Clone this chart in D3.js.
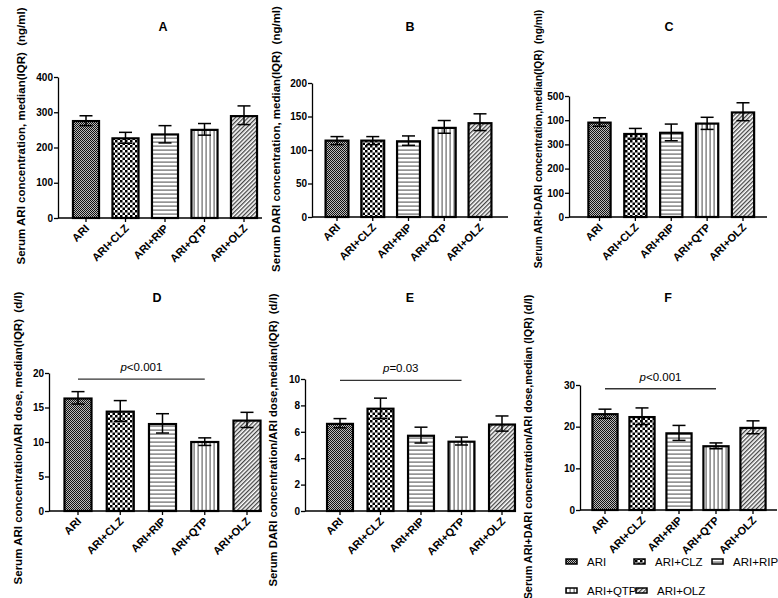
<!DOCTYPE html>
<html><head><meta charset="utf-8">
<script src="https://cdn.jsdelivr.net/npm/d3@7"></script>
<style>
body{margin:0;background:#fff;}
text{font-family:"Liberation Sans",Arial,sans-serif;}
</style></head>
<body><svg id="chart" width="778" height="598"></svg>
<script>
const categories = ["ARI","ARI+CLZ","ARI+RIP","ARI+QTP","ARI+OLZ"];
const patternIds = ["pARI","pCLZ","pRIP","pQTP","pOLZ"];

const titles = ["A","B","C","D","E","F"];
const yLabels = [
  "Serum ARI concentration, median(IQR)  (ng/ml)",
  "Serum DARI concentration, median(IQR)  (ng/ml)",
  "Serum ARI+DARI concentration,median(IQR)  (ng/ml)",
  "Serum ARI concentration/ARI dose, median(IQR)  (d/l)",
  "Serum DARI concentration/ARI dose,median(IQR)  (d/l)",
  "Serum ARI+DARI concentration/ARI dose,median (IQR) (d/l)"
];

const medianA = [275,226,237,250,289];
const lowA    = [262,212,213,235,265];
const highA   = [290,243,262,268,318];
const ticksA  = [0,100,200,300,400];
const tickLabelsA = ["0","100","200","300","400"];

const medianB = [114,114,113,133,140];
const lowB    = [108,108,107,125,129];
const highB   = [120,120,121,144,154];
const ticksB  = [0,50,100,150,200];
const tickLabelsB = ["0","50","100","150","200"];

const medianC = [390,343,348,386,432];
const lowC    = [375,322,315,362,398];
const highC   = [410,366,384,412,472];
const ticksC  = [0,100,200,300,400,500];
const tickLabelsC = ["0","100","200","300","100","500"];

const medianD = [16.3,14.4,12.6,10.0,13.1];
const lowD    = [15.5,13.0,11.3,9.5,12.1];
const highD   = [17.3,16.0,14.1,10.6,14.3];
const ticksD  = [0,5,10,15,20];
const tickLabelsD = ["0","5","10","15","20"];

const medianE = [6.6,7.75,5.7,5.25,6.55];
const lowE    = [6.3,7.0,5.15,5.0,6.05];
const highE   = [7.0,8.55,6.35,5.6,7.2];
const ticksE  = [0,2,4,6,8,10];
const tickLabelsE = ["0","2","4","6","8","10"];

const medianF = [23.0,22.3,18.4,15.3,19.7];
const lowF    = [22.0,20.5,16.7,14.7,18.3];
const highF   = [24.2,24.5,20.3,16.1,21.4];
const ticksF  = [0,10,20,30];
const tickLabelsF = ["0","10","20","30"];

// significance brackets: [from category, to category, y value, label prefix, label rest]
const sigD = ["ARI","ARI+QTP",19.1,"p","<0.001"];
const sigE = ["ARI","ARI+QTP",9.9,"p","=0.03"];
const sigF = ["ARI","ARI+QTP",29.1,"p","<0.001"];

const svg = d3.select("#chart");
const defs = svg.append("defs");

// patterns
(function(){
  let p = defs.append("pattern").attr("id","pARI").attr("patternUnits","userSpaceOnUse").attr("width",2).attr("height",2);
  p.append("rect").attr("width",2).attr("height",2).attr("fill","#bbb");
  p.append("rect").attr("x",0).attr("y",0).attr("width",1).attr("height",1).attr("fill","#111");
  p.append("rect").attr("x",1).attr("y",1).attr("width",1).attr("height",1).attr("fill","#111");

  p = defs.append("pattern").attr("id","pCLZ").attr("patternUnits","userSpaceOnUse").attr("width",5).attr("height",5);
  p.append("rect").attr("width",5).attr("height",5).attr("fill","#fff");
  p.append("rect").attr("x",0).attr("y",0).attr("width",2.5).attr("height",2.5).attr("fill","#000");
  p.append("rect").attr("x",2.5).attr("y",2.5).attr("width",2.5).attr("height",2.5).attr("fill","#000");

  p = defs.append("pattern").attr("id","pRIP").attr("patternUnits","userSpaceOnUse").attr("width",4).attr("height",4);
  p.append("rect").attr("width",4).attr("height",4).attr("fill","#fff");
  p.append("rect").attr("x",0).attr("y",1.5).attr("width",4).attr("height",1.2).attr("fill","#666");

  p = defs.append("pattern").attr("id","pQTP").attr("patternUnits","userSpaceOnUse").attr("width",4).attr("height",4);
  p.append("rect").attr("width",4).attr("height",4).attr("fill","#fff");
  p.append("rect").attr("x",1.5).attr("y",0).attr("width",1.2).attr("height",4).attr("fill","#666");

  p = defs.append("pattern").attr("id","pOLZ").attr("patternUnits","userSpaceOnUse").attr("width",3).attr("height",3)
    .attr("patternTransform","rotate(45)");
  p.append("rect").attr("width",3).attr("height",3).attr("fill","#fff");
  p.append("rect").attr("x",0).attr("y",0).attr("width",1.3).attr("height",3).attr("fill","#444");
})();

const panels = [
  {med:medianA,low:lowA,high:highA,ticks:ticksA,tl:tickLabelsA,max:400,ax:58,right:262,y0:218,yTop:77,c0:86,c4:244,title:[163,31],yl:[25,136],ylf:11.5,pad:0.34},
  {med:medianB,low:lowB,high:highB,ticks:ticksB,tl:tickLabelsB,max:200,ax:312,right:508,y0:217,yTop:83,c0:337,c4:480,title:[410,31],yl:[280,139],ylf:11.5,pad:0.36},
  {med:medianC,low:lowC,high:highC,ticks:ticksC,tl:tickLabelsC,max:500,ax:569,right:767,y0:217,yTop:96,c0:599.5,c4:743,title:[669,31],yl:[542,139],ylf:10.3,pad:0.38},
  {med:medianD,low:lowD,high:highD,ticks:ticksD,tl:tickLabelsD,max:20,ax:49,right:262,y0:511,yTop:373,c0:78,c4:247,title:[157,302],yl:[22,438],ylf:11.5,pad:0.36,sig:sigD},
  {med:medianE,low:lowE,high:highE,ticks:ticksE,tl:tickLabelsE,max:10,ax:305,right:515,y0:511,yTop:379,c0:340,c4:502,title:[410,302],yl:[277,440],ylf:11.3,pad:0.36,sig:sigE},
  {med:medianF,low:lowF,high:highF,ticks:ticksF,tl:tickLabelsF,max:30,ax:580,right:777,y0:510,yTop:385,c0:605,c4:753,title:[668,302],yl:[532,447],ylf:10.8,pad:0.32,sig:sigF}
];

panels.forEach((P,i)=>{
  const g = svg.append("g");
  const step = (P.c4-P.c0)/4;
  const x = d3.scaleBand().domain(categories).range([P.c0-step/2, P.c4+step/2])
    .paddingInner(P.pad).paddingOuter(P.pad/2);
  const y = d3.scaleLinear().domain([0,P.max]).range([P.y0,P.yTop]);

  // title
  g.append("text").attr("x",P.title[0]).attr("y",P.title[1]).attr("text-anchor","middle")
    .attr("font-size",12.5).attr("font-weight","bold").text(titles[i]);
  // y label
  g.append("text").attr("transform",`translate(${P.yl[0]},${P.yl[1]}) rotate(-90)`)
    .attr("text-anchor","middle").attr("font-size",P.ylf).attr("font-weight","bold")
    .style("white-space","pre").text(yLabels[i]);

  // bars
  categories.forEach((c,k)=>{
    g.append("rect").attr("x",x(c)).attr("y",y(P.med[k])).attr("width",x.bandwidth())
      .attr("height",y(0)-y(P.med[k])).attr("fill",`url(#${patternIds[k]})`)
      .attr("stroke","#000").attr("stroke-width",2.2);
    const cx = x(c)+x.bandwidth()/2, hw = 6.5;
    g.append("line").attr("x1",cx).attr("x2",cx).attr("y1",y(P.low[k])).attr("y2",y(P.high[k]))
      .attr("stroke","#000").attr("stroke-width",1.5);
    [P.low[k],P.high[k]].forEach(v=>{
      g.append("line").attr("x1",cx-hw).attr("x2",cx+hw).attr("y1",y(v)).attr("y2",y(v))
        .attr("stroke","#000").attr("stroke-width",1.5);
    });
  });

  // y axis
  const yAxis = d3.axisLeft(y).tickValues(P.ticks).tickFormat((d,j)=>P.tl[j]).tickSize(4).tickSizeOuter(0);
  const ya = g.append("g").attr("transform",`translate(${P.ax},0)`).call(yAxis);
  ya.select(".domain").attr("stroke","#000").attr("stroke-width",1.3);
  ya.selectAll(".tick line").attr("stroke","#000").attr("stroke-width",1.3);
  ya.selectAll(".tick text").attr("font-size",10).attr("font-weight","bold")
    .attr("font-family","Liberation Sans, Arial, sans-serif").attr("fill","#000").attr("x",-5);

  // x axis
  const xAxis = d3.axisBottom(x).tickSize(4).tickSizeOuter(0);
  const xa = g.append("g").attr("transform",`translate(0,${P.y0})`).call(xAxis);
  xa.select(".domain").remove();
  xa.append("line").attr("x1",P.ax).attr("x2",P.right).attr("y1",0).attr("y2",0)
    .attr("stroke","#000").attr("stroke-width",1.3);
  xa.selectAll(".tick line").attr("stroke","#000").attr("stroke-width",1.3);
  xa.selectAll(".tick text").attr("font-size",11).attr("font-weight","bold")
    .attr("font-family","Liberation Sans, Arial, sans-serif").attr("fill","#000")
    .attr("text-anchor","end").attr("dy",0).attr("y",0)
    .attr("transform","translate(4,11) rotate(-45)");

  // significance
  if(P.sig){
    const [a,b,v,pp,rest] = P.sig;
    const xa1 = x(a)+x.bandwidth()/2, xb1 = x(b)+x.bandwidth()/2;
    g.append("line").attr("x1",xa1).attr("x2",xb1).attr("y1",y(v)).attr("y2",y(v))
      .attr("stroke","#333").attr("stroke-width",1.3);
    const t = g.append("text").attr("x",(xa1+xb1)/2).attr("y",y(v)-8).attr("text-anchor","middle")
      .attr("font-size",11.5);
    t.append("tspan").attr("font-style","italic").text(pp);
    t.append("tspan").text(rest);
  }
});

// legend
const legendPos = [[566,562],[634,562],[712,562],[566,591],[636,591]];
categories.forEach((c,k)=>{
  const [lx,ly] = legendPos[k];
  svg.append("rect").attr("x",lx).attr("y",ly-3).attr("width",11).attr("height",5)
    .attr("fill",`url(#${patternIds[k]})`).attr("stroke","#000").attr("stroke-width",1.5);
  svg.append("text").attr("x",lx+21).attr("y",ly+4).attr("font-size",11.5).text(c);
});
</script></body></html>
